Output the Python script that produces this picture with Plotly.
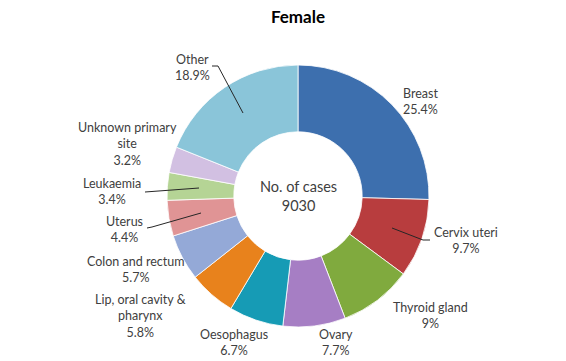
import plotly.graph_objects as go

labels = ["Breast", "Cervix uteri", "Thyroid gland", "Ovary", "Oesophagus",
          "Lip, oral cavity & pharynx", "Colon and rectum", "Uterus",
          "Leukaemia", "Unknown primary site", "Other"]
values = [25.4, 9.7, 9.0, 7.7, 6.7, 5.8, 5.7, 4.4, 3.4, 3.2, 18.9]
display_labels = ["Breast<br>25.4%", "Cervix uteri<br>9.7%", "Thyroid gland<br>9%",
                  "Ovary<br>7.7%", "Oesophagus<br>6.7%",
                  "Lip, oral cavity &<br>pharynx<br>5.8%", "Colon and rectum<br>5.7%",
                  "Uterus<br>4.4%", "Leukaemia<br>3.4%",
                  "Unknown primary<br>site<br>3.2%", "Other<br>18.9%"]
total_cases = 9030
colors = ["#3D6FAE", "#B83D3E", "#80AA3E", "#A67EC4", "#169BB5", "#E8821C",
          "#94A9D7", "#E09495", "#B5D495", "#D2C0E2", "#8AC5D9"]

W, H = 566, 361
FONT = "Lato"

# label layout (pixel positions of text-block centres), styling only
label_pos = [(420, 101), (466, 241), (430, 315), (336, 342), (234, 342),
             (140, 316), (136, 269), (125, 229), (112, 191), (127, 144), (192, 68)]
# leader lines (pixel paths) for some labels
leaders = {
    10: [(212, 66), (218, 66), (243, 113)],
    1: [(430, 240), (423, 240), (392, 228)],
    7: [(147, 228), (152, 227), (201, 213)],
    8: [(145, 192), (199, 188)],
}

def px(x, y):
    return x / W, 1 - y / H

cx, cy, r = 298, 196, 131
fig = go.Figure(go.Pie(
    labels=labels, values=values, sort=False, direction="clockwise", rotation=0,
    hole=0.49, textinfo="none", hoverinfo="label+percent",
    marker=dict(colors=colors, line=dict(color="white", width=0.8)),
    domain=dict(x=[(cx - r) / W, (cx + r) / W], y=[1 - (cy + r) / H, 1 - (cy - r) / H]),
    showlegend=False,
))

annotations = []
for txt, (x, y) in zip(display_labels, label_pos):
    ax, ay = px(x, y)
    annotations.append(dict(x=ax, y=ay, xref="paper", yref="paper", text=txt,
                            xanchor="center", yanchor="middle",
                            showarrow=False, align="center",
                            font=dict(family=FONT, size=12.5, color="#404040")))
ccx, ccy = px(cx, cy)
annotations.append(dict(x=ccx, y=ccy, xref="paper", yref="paper",
                        xanchor="center", yanchor="middle",
                        text=f"No. of cases<br>{total_cases}", showarrow=False,
                        font=dict(family=FONT, size=14.5, color="#404040")))

shapes = []
for i, pts in leaders.items():
    path = "M " + " L ".join(f"{px(x, y)[0]},{px(x, y)[1]}" for x, y in pts)
    shapes.append(dict(type="path", xref="paper", yref="paper", path=path,
                       line=dict(color="#262626", width=1)))

fig.update_layout(
    width=W, height=H, margin=dict(l=0, r=0, t=0, b=0),
    paper_bgcolor="white", plot_bgcolor="white",
    title=dict(text="<b>Female</b>", x=298 / W, xanchor="center", y=1 - 17 / H,
               yanchor="middle", font=dict(family=FONT, size=17, color="#000000")),
    annotations=annotations, shapes=shapes,
)
fig.write_html("out.html", config={"displayModeBar": False},
               post_script="document.body.style.margin='0px';")
